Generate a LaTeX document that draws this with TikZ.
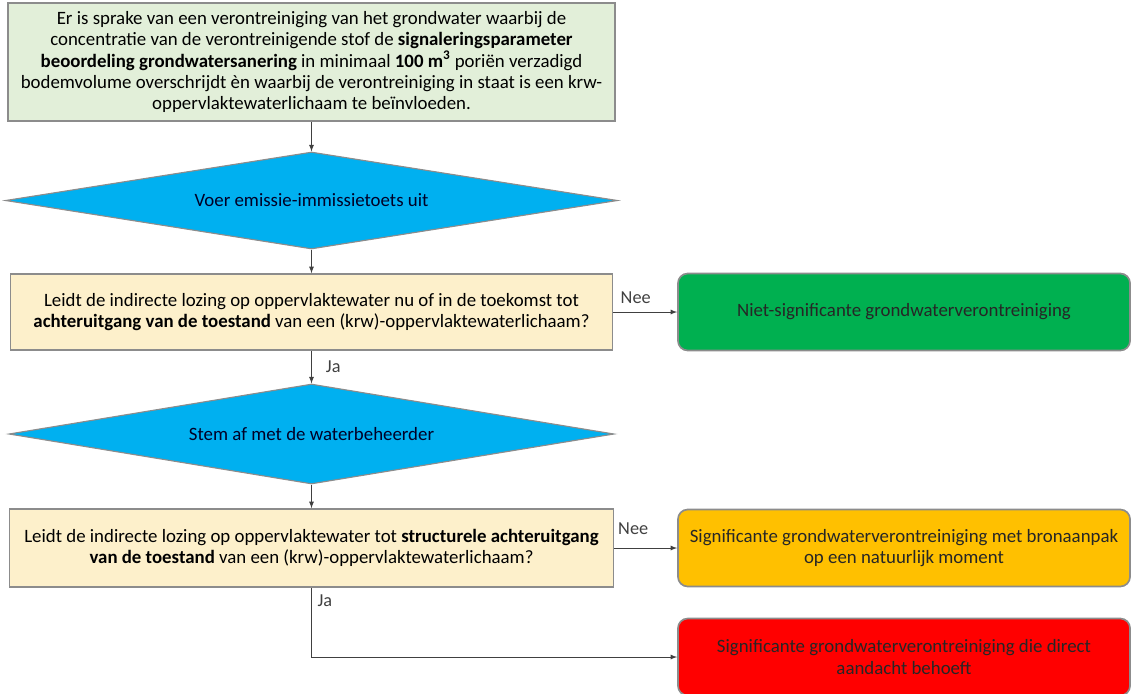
\documentclass[tikz,border=0pt]{standalone}
\usepackage{fontspec}
\setmainfont{Carlito}
\usepackage{xcolor}
\usepackage{tikz}
\usetikzlibrary{shapes.geometric,arrows,positioning,calc}
\definecolor{startgreen}{HTML}{E2EFD9}
\definecolor{questionyellow}{HTML}{FDF0CB}
\definecolor{decisionblue}{HTML}{00B0F0}
\definecolor{okgreen}{HTML}{00B050}
\definecolor{warnorange}{HTML}{FFC000}
\definecolor{alarmred}{HTML}{FF0000}
\definecolor{edgegray}{HTML}{8C8C8C}
\tikzset{
  start_box/.style={rectangle, draw=edgegray, line width=1.2pt, fill=startgreen, align=center, inner sep=0pt},
  question_box/.style={rectangle, draw=edgegray, line width=1.2pt, fill=questionyellow, align=center, inner sep=0pt},
  decision/.style={diamond, draw=edgegray, line width=0.8pt, fill=decisionblue, align=center, inner sep=0pt, text=black!85!blue},
  outcome/.style={rectangle, rounded corners=7pt, draw=edgegray, line width=1.2pt, align=center, inner sep=0pt, minimum width=11.3cm, minimum height=1.925cm, text=black!85},
  flow/.style={->, >=latex, black!75, line width=0.6pt},
  answer/.style={font=\fontsize{13}{15}\selectfont, inner sep=0pt}
}

\begin{document}
\begin{tikzpicture}[x=0.025cm, y=-0.025cm, font=\fontsize{13.4}{15}\selectfont]
      \useasboundingbox (0,0) rectangle (1132,693);
      % main column
      \node (start_box) [start_box, minimum width=15.175cm, minimum height=2.95cm] at (311.5, 62)
      {Er is sprake van een verontreiniging van het grondwater waarbij de\\
       concentratie van de verontreinigende stof de \textbf{signaleringsparameter}\\
       \textbf{beoordeling grondwatersanering} in minimaal \textbf{100 m\textsuperscript{3}} poriën verzadigd\\
       bodemvolume overschrijdt èn waarbij de verontreiniging in staat is een krw-\\
       oppervlaktewaterlichaam te beïnvloeden.};
      \node (decide_emission) [decision, aspect=6.3, minimum width=15.3cm, minimum height=2.425cm] at (311.5, 200.5)
      {Voer emissie-immissietoets uit};
      \node (question_one) [question_box, minimum width=15.05cm, minimum height=1.9cm] at (311.5, 312)
      {Leidt de indirecte lozing op oppervlaktewater nu of in de toekomst tot\\
       \textbf{achteruitgang van de toestand} van een (krw)-oppervlaktewaterlichaam?};
      \node (decide_consult) [decision, aspect=6.05, minimum width=15.125cm, minimum height=2.5cm] at (311.5, 434)
      {Stem af met de waterbeheerder};
      \node (question_two) [question_box, minimum width=15.1cm, minimum height=1.95cm] at (311.5, 548)
      {Leidt de indirecte lozing op oppervlaktewater tot \textbf{structurele achteruitgang}\\
       \textbf{van de toestand} van een (krw)-oppervlaktewaterlichaam?};
      % outcomes
      \node (outcome_green) [outcome, fill=okgreen] at (904, 312)
      {Niet-significante grondwaterverontreiniging};
      \node (outcome_orange) [outcome, fill=warnorange] at (904, 548)
      {Significante grondwaterverontreiniging met bronaanpak\\ op een natuurlijk moment};
      \node (outcome_red) [outcome, fill=alarmred] at (904, 657)
      {Significante grondwaterverontreiniging die direct\\ aandacht behoeft};
      % connectors
      \draw [flow] (start_box) -- (decide_emission);
      \draw [flow] (decide_emission) -- (question_one);
      \draw [flow] (question_one) -- node [answer, pos=0.5, right=10pt] (ja_one) {Ja} (decide_consult);
      \draw [flow] (decide_consult) -- (question_two);
      \draw [flow] (question_one) -- node [answer, pos=0.35, above=6pt] (nee_one) {Nee} (outcome_green);
      \draw [flow] (question_two) -- node [answer, pos=0.3, above=9pt] (nee_two) {Nee} (outcome_orange);
      \draw [flow] (question_two.south) |- node [answer, pos=0.09, right=4pt] (ja_two) {Ja} (outcome_red.west);
    \end{tikzpicture}
\end{document}
